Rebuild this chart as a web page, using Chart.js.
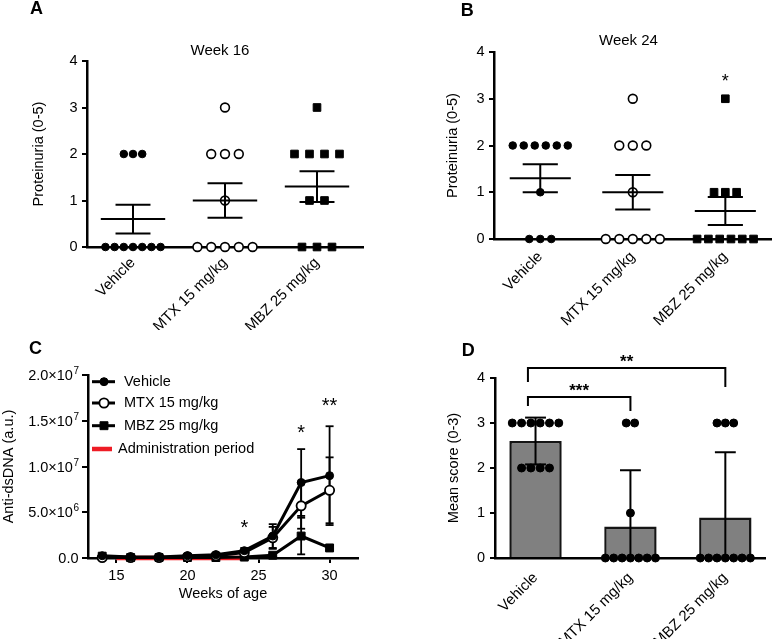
<!DOCTYPE html>
<html>
<head>
<meta charset="utf-8">
<title>Figure</title>
<script src="https://cdn.jsdelivr.net/npm/chart.js@4.4.1/dist/chart.umd.min.js"></script>
<style>
  html, body { margin:0; padding:0; background:#fff; }
  body { position:relative; width:778px; height:639px; overflow:hidden; font-family:"Liberation Sans", Arial, Helvetica, sans-serif; color:#000; }
  canvas { position:absolute; display:block; }
  .tag { position:absolute; font-weight:bold; font-size:18px; line-height:1; }
  .ttl { position:absolute; font-size:15px; line-height:1; white-space:nowrap; transform:translateX(-50%); }
</style>
</head>
<body>
<canvas id="chartA" width="390" height="330" style="left:0;top:0"></canvas>
<canvas id="chartB" width="388" height="330" style="left:390px;top:0"></canvas>
<canvas id="chartC" width="390" height="309" style="left:0;top:330px"></canvas>
<canvas id="chartD" width="388" height="309" style="left:390px;top:330px"></canvas>
<div class="tag" style="left:30px;top:-0.6px">A</div>
<div class="tag" style="left:460.7px;top:0.7px">B</div>
<div class="tag" style="left:29px;top:339.4px">C</div>
<div class="tag" style="left:461.7px;top:340.7px">D</div>
<div class="ttl" style="left:220px;top:41.7px">Week 16</div>
<div class="ttl" style="left:628.5px;top:32.2px">Week 24</div>
<script>
// ---------------- data ----------------
const groups = ['Vehicle', 'MTX 15 mg/kg', 'MBZ 25 mg/kg'];
const groupIndex = [0, 1, 2];

// Panel A: week 16 proteinuria
const wk16Vehicle = [2, 2, 2, 0, 0, 0, 0, 0, 0, 0];
const wk16MTX     = [3, 2, 2, 2, 1, 0, 0, 0, 0, 0];
const wk16MBZ     = [3, 2, 2, 2, 2, 1, 1, 0, 0, 0];
const wk16Mean    = [0.6, 1.0, 1.3];
const wk16SEM     = [0.31, 0.37, 0.33];

// Panel B: week 24 proteinuria
const wk24Vehicle = [2, 2, 2, 2, 2, 2, 1, 0, 0, 0];
const wk24MTX     = [3, 2, 2, 2, 1, 0, 0, 0, 0, 0];
const wk24MBZ     = [3, 1, 1, 1, 0, 0, 0, 0, 0, 0];
const wk24Mean    = [1.3, 1.0, 0.6];
const wk24SEM     = [0.3, 0.37, 0.3];
const wk24Stars   = ['', '', '*'];
const wk24StarY   = [0, 0, 3.47];

const proteinuriaTicks = [0, 1, 2, 3, 4];

// Panel C: anti-dsDNA over time
const weeks = [14, 16, 18, 20, 22, 24, 26, 28, 30];
const dsdnaVehicle   = [0.25e6, 0.1e6, 0.1e6, 0.25e6, 0.35e6, 0.8e6, 2.4e6, 8.25e6, 9.0e6];
const dsdnaVehicleSD = [0.1e6, 0.05e6, 0.05e6, 0.1e6, 0.15e6, 0.3e6, 1.3e6, 3.65e6, 5.4e6];
const dsdnaMTX       = [0.05e6, 0.05e6, 0.05e6, 0.15e6, 0.25e6, 0.6e6, 2.2e6, 5.7e6, 7.4e6];
const dsdnaMTXSD     = [0.03e6, 0.03e6, 0.03e6, 0.05e6, 0.1e6, 0.25e6, 1.2e6, 2.5e6, 3.6e6];
const dsdnaMBZ       = [0.2e6, 0.05e6, 0.05e6, 0.05e6, 0.05e6, 0.1e6, 0.3e6, 2.4e6, 1.1e6];
const dsdnaMBZSD     = [0.05e6, 0.03e6, 0.03e6, 0.03e6, 0.03e6, 0.05e6, 0.15e6, 2.0e6, 0.3e6];
const weekTicks       = [15, 20, 25, 30];
const dsdnaTicks      = [0, 5e6, 1e7, 1.5e7, 2e7];
const dsdnaTickBase   = ['0.0', '5.0×10', '1.0×10', '1.5×10', '2.0×10'];
const dsdnaTickExp    = ['', '6', '7', '7', '7'];
const adminPeriod     = [15, 24];
const adminLabel      = 'Administration period';
const dsdnaStarWeeks  = [24, 28, 30];
const dsdnaStarY      = [3.9e6, 14.3e6, 17.2e6];
const dsdnaStars      = ['*', '*', '**'];

// Panel D: histology mean score
const histVehicle = [3, 3, 3, 3, 3, 3, 2, 2, 2, 2];
const histMTX     = [3, 3, 1, 0, 0, 0, 0, 0, 0, 0];
const histMBZ     = [3, 3, 3, 0, 0, 0, 0, 0, 0, 0];
const histMean    = [2.6, 0.7, 0.9];
const histSD      = [0.52, 1.25, 1.45];
const histCompare      = [[0, 1], [0, 2]];
const histCompareStars = ['***', '**'];
const histCompareY     = [3.58, 4.22];

// ---------------- setup ----------------
const FONT = "'Liberation Sans', Arial, Helvetica, sans-serif";
Chart.defaults.font.family = FONT;
Chart.defaults.font.size = 14;
Chart.defaults.color = '#000';

function swarm(values, gi, step) {
  const counts = {}, seen = {};
  values.forEach(v => counts[v] = (counts[v] || 0) + 1);
  return values.map(v => {
    const k = seen[v] = (seen[v] || 0) + 1;
    return { x: gi + (k - 1 - (counts[v] - 1) / 2) * step, y: v };
  });
}
function seg(ctx, x1, y1, x2, y2) { ctx.beginPath(); ctx.moveTo(x1, y1); ctx.lineTo(x2, y2); ctx.stroke(); }

const meanSemPlugin = {
  id: 'meanSem',
  afterDatasetsDraw(chart, args, o) {
    if (!o.mean) return;
    const ctx = chart.ctx, xs = chart.scales.x, ys = chart.scales.y;
    ctx.save(); ctx.strokeStyle = '#000'; ctx.lineWidth = o.lineWidth;
    o.mean.forEach((m, i) => {
      const lo = m - o.sem[i], hi = m + o.sem[i];
      const px = xs.getPixelForValue(i);
      const ym = ys.getPixelForValue(m);
      seg(ctx, xs.getPixelForValue(i - o.meanHalf), ym, xs.getPixelForValue(i + o.meanHalf), ym);
      seg(ctx, px, ys.getPixelForValue(lo), px, ys.getPixelForValue(hi));
      [lo, hi].forEach(v => seg(ctx, xs.getPixelForValue(i - o.capHalf), ys.getPixelForValue(v), xs.getPixelForValue(i + o.capHalf), ys.getPixelForValue(v)));
    });
    ctx.restore();
  }
};

const starPlugin = {
  id: 'stars',
  afterDraw(chart, args, o) {
    if (!o.items) return;
    const ctx = chart.ctx, xs = chart.scales.x, ys = chart.scales.y;
    ctx.save(); ctx.fillStyle = '#000'; ctx.textAlign = 'center'; ctx.textBaseline = 'alphabetic';
    ctx.font = (o.bold ? 'bold ' : '') + o.size + 'px ' + FONT;
    o.items.forEach(it => {
      if (!it.text) return;
      ctx.fillText(it.text, xs.getPixelForValue(it.x), ys.getPixelForValue(it.y) + 0.58 * o.size);
    });
    ctx.restore();
  }
};

const errorBarPlugin = {
  id: 'errorBars',
  beforeDatasetsDraw(chart, args, o) {
    if (!o.series) return;
    const ctx = chart.ctx, xs = chart.scales.x, ys = chart.scales.y;
    ctx.save(); ctx.strokeStyle = '#000'; ctx.lineWidth = o.lineWidth;
    o.series.forEach(s => {
      s.x.forEach((xv, i) => {
        const m = s.mean[i], e = s.err[i];
        const px = xs.getPixelForValue(xv);
        const yl = ys.getPixelForValue(m - e), yh = ys.getPixelForValue(m + e);
        seg(ctx, px, yl, px, yh);
        seg(ctx, px - o.cap, yl, px + o.cap, yl);
        seg(ctx, px - o.cap, yh, px + o.cap, yh);
      });
    });
    ctx.restore();
  }
};

// y tick labels with real superscript exponents (panel C)
const expTickPlugin = {
  id: 'expTicks',
  afterDraw(chart, args, o) {
    if (!o.base) return;
    const ctx = chart.ctx, ys = chart.scales.y;
    const xr = chart.chartArea.left - o.offset;
    ctx.save(); ctx.fillStyle = '#000'; ctx.textBaseline = 'alphabetic'; ctx.textAlign = 'left';
    o.values.forEach((v, i) => {
      const y = ys.getPixelForValue(v) + o.size * 0.36;
      ctx.font = o.expSize + 'px ' + FONT;
      const we = o.exp[i] ? ctx.measureText(o.exp[i]).width : 0;
      ctx.font = o.size + 'px ' + FONT;
      const wb = ctx.measureText(o.base[i]).width;
      const x0 = xr - we - wb;
      ctx.fillText(o.base[i], x0, y);
      if (o.exp[i]) { ctx.font = o.expSize + 'px ' + FONT; ctx.fillText(o.exp[i], x0 + wb + 0.5, y - o.size * 0.42); }
    });
    ctx.restore();
  }
};

const legendPlugin = {
  id: 'panelLegend',
  afterDraw(chart, args, o) {
    if (!o.rows) return;
    const ctx = chart.ctx, ca = chart.chartArea;
    ctx.save();
    ctx.font = o.size + 'px ' + FONT; ctx.textBaseline = 'middle'; ctx.textAlign = 'left';
    chart.data.datasets.forEach((ds, i) => {
      const y = ca.top + o.rows[i];
      const isLine = ds.pointRadius === 0;
      ctx.strokeStyle = ds.borderColor; ctx.lineWidth = ds.borderWidth;
      seg(ctx, ca.left + o.x0, y, ca.left + (isLine ? o.x1Line : o.x1), y);
      if (!isLine) {
        ctx.fillStyle = ds.pointBackgroundColor; ctx.strokeStyle = ds.pointBorderColor; ctx.lineWidth = ds.pointBorderWidth;
        const cx = ca.left + o.xm, r = ds.pointRadius;
        ctx.beginPath();
        if (ds.pointStyle === 'rect') { const h = r * Math.SQRT1_2; ctx.rect(cx - h, y - h, 2 * h, 2 * h); }
        else ctx.arc(cx, y, r, 0, Math.PI * 2);
        ctx.fill(); ctx.stroke();
      }
      ctx.fillStyle = '#000';
      ctx.fillText(ds.label, ca.left + (isLine ? o.txLine : o.tx), y);
    });
    ctx.restore();
  }
};

const barErrorPlugin = {
  id: 'barErrors',
  afterDatasetDraw(chart, args, o) {
    if (!o.mean || args.meta.type !== 'bar') return;
    const ctx = chart.ctx, xs = chart.scales.x, ys = chart.scales.y;
    ctx.save(); ctx.strokeStyle = '#000'; ctx.lineWidth = o.lineWidth;
    o.mean.forEach((m, i) => {
      const lo = Math.max(m - o.sd[i], 0), hi = m + o.sd[i];
      const px = xs.getPixelForValue(i);
      seg(ctx, px, ys.getPixelForValue(lo), px, ys.getPixelForValue(hi));
      seg(ctx, xs.getPixelForValue(i - o.capHalf), ys.getPixelForValue(hi), xs.getPixelForValue(i + o.capHalf), ys.getPixelForValue(hi));
      if (m - o.sd[i] > 0) seg(ctx, xs.getPixelForValue(i - o.capHalf), ys.getPixelForValue(lo), xs.getPixelForValue(i + o.capHalf), ys.getPixelForValue(lo));
    });
    ctx.restore();
  }
};

const bracketPlugin = {
  id: 'brackets',
  afterDraw(chart, args, o) {
    if (!o.items) return;
    const ctx = chart.ctx, xs = chart.scales.x, ys = chart.scales.y;
    ctx.save(); ctx.strokeStyle = '#000'; ctx.fillStyle = '#000'; ctx.lineWidth = o.lineWidth;
    ctx.font = 'bold ' + o.size + 'px ' + FONT; ctx.textAlign = 'center'; ctx.textBaseline = 'alphabetic';
    o.items.forEach(it => {
      const x1 = xs.getPixelForValue(it.from), x2 = xs.getPixelForValue(it.to), y = ys.getPixelForValue(it.y);
      ctx.beginPath();
      ctx.moveTo(x1, y + it.dropL); ctx.lineTo(x1, y); ctx.lineTo(x2, y); ctx.lineTo(x2, y + it.dropR);
      ctx.stroke();
      ctx.fillText(it.text, (x1 + x2) / 2, y - 1);
    });
    ctx.restore();
  }
};

function xCatAxis(min, max, pad, height) {
  return {
    type: 'linear', min: min, max: max, offset: false,
    afterBuildTicks: s => { s.ticks = groupIndex.map(v => ({ value: v })); },
    ticks: { autoSkip: false, minRotation: 45, maxRotation: 45, padding: pad, font: { size: 15 }, callback: v => groups[v] },
    grid: { display: false, drawTicks: false },
    border: { display: true, color: '#000', width: 2.5 },
    afterFit: s => { s.height = height; }
  };
}
function yAxis(min, max, tickVals, title, width, pad, tickLen, hideLabels) {
  return {
    type: 'linear', min: min, max: max,
    afterBuildTicks: s => { s.ticks = tickVals.map(v => ({ value: v })); },
    ticks: { display: !hideLabels, padding: pad, font: { size: 14.5 } },
    grid: { drawOnChartArea: false, drawTicks: true, tickLength: tickLen, color: '#000', lineWidth: 2 },
    border: { display: true, color: '#000', width: 2.5 },
    title: { display: true, text: title, font: { size: 14.5 }, padding: 0 },
    afterFit: s => { s.width = width; }
  };
}

const markerStyles = [
  { pointStyle: 'circle', pointRadius: 3.8, pointBackgroundColor: '#000', pointBorderColor: '#000', pointBorderWidth: 1 },
  { pointStyle: 'circle', pointRadius: 4.4, pointBackgroundColor: '#fff', pointBorderColor: '#000', pointBorderWidth: 1.6 },
  { pointStyle: 'rect', pointRadius: 5.4, pointBackgroundColor: '#000', pointBorderColor: '#000', pointBorderWidth: 1 }
];

function proteinuriaChart(id, series, mean, sem, steps, layout, stars, starY) {
  return new Chart(document.getElementById(id), {
    type: 'scatter',
    data: {
      datasets: series.map((vals, i) => Object.assign({
        label: groups[i], data: swarm(vals, i, steps[i]), clip: false
      }, markerStyles[i], { pointHoverRadius: markerStyles[i].pointRadius }))
    },
    options: {
      responsive: false, animation: false, events: [],
      layout: { padding: layout.padding },
      scales: {
        x: xCatAxis(-0.5, 2.5, layout.xPad, layout.xHeight),
        y: yAxis(0, 4, proteinuriaTicks, 'Proteinuria (0-5)', layout.yWidth, 4.5, 5)
      },
      plugins: {
        legend: { display: false }, tooltip: { enabled: false },
        meanSem: { mean: mean, sem: sem, meanHalf: layout.meanHalf, capHalf: layout.capHalf, lineWidth: 2 },
        stars: stars ? { items: groupIndex.map(i => ({ x: i, y: starY[i], text: stars[i] })), size: 18, bold: false } : {}
      }
    },
    plugins: [meanSemPlugin, starPlugin]
  });
}

// Panel A
proteinuriaChart('chartA', [wk16Vehicle, wk16MTX, wk16MBZ], wk16Mean, wk16SEM, [0.1, 0.15, 0.163],
  { padding: { left: 29.8, top: 61, right: 27, bottom: 0 }, yWidth: 57.2, xHeight: 83, xPad: 7, meanHalf: 0.35, capHalf: 0.19 });

// Panel B
proteinuriaChart('chartB', [wk24Vehicle, wk24MTX, wk24MBZ], wk24Mean, wk24SEM, [0.119, 0.146, 0.122],
  { padding: { left: 54.3, top: 52, right: 1, bottom: 0 }, yWidth: 49.7, xHeight: 91, xPad: 9, meanHalf: 0.33, capHalf: 0.19 },
  wk24Stars, wk24StarY);

// Panel C
const cSeries = [
  { label: groups[0], y: dsdnaVehicle, err: dsdnaVehicleSD, style: { pointStyle: 'circle', pointRadius: 4, pointBackgroundColor: '#000', pointBorderWidth: 1 } },
  { label: groups[1], y: dsdnaMTX, err: dsdnaMTXSD, style: { pointStyle: 'circle', pointRadius: 4.6, pointBackgroundColor: '#fff', pointBorderWidth: 1.8 } },
  { label: groups[2], y: dsdnaMBZ, err: dsdnaMBZSD, style: { pointStyle: 'rect', pointRadius: 5.6, pointBackgroundColor: '#000', pointBorderWidth: 1 } }
];
new Chart(document.getElementById('chartC'), {
  type: 'line',
  data: {
    datasets: cSeries.map((s, i) => Object.assign({
      label: s.label, data: weeks.map((w, j) => ({ x: w, y: s.y[j] })),
      borderColor: '#000', borderWidth: 3, pointBorderColor: '#000', tension: 0, fill: false, clip: false, order: i + 1
    }, s.style, { pointHoverRadius: s.style.pointRadius })).concat([{
      label: adminLabel, data: adminPeriod.map(w => ({ x: w, y: 0 })),
      borderColor: '#ee1c25', borderWidth: 4.5, pointRadius: 0, pointHoverRadius: 0, clip: false, order: 10
    }])
  },
  options: {
    responsive: false, animation: false, events: [],
    layout: { padding: { left: 0, top: 45, right: 32, bottom: 36.3 } },
    scales: {
      x: {
        type: 'linear', min: 13, max: 32,
        afterBuildTicks: s => { s.ticks = weekTicks.map(v => ({ value: v })); },
        ticks: { padding: 4, font: { size: 14.5 } },
        grid: { drawOnChartArea: false, drawTicks: true, tickLength: 5, color: '#000', lineWidth: 2 },
        border: { display: true, color: '#000', width: 2.5 },
        title: { display: true, text: 'Weeks of age', font: { size: 14.5 }, padding: 0 },
        afterFit: s => { s.height = 44.7; }
      },
      y: yAxis(0, 2e7, dsdnaTicks, 'Anti-dsDNA (a.u.)', 88, 4, 6, true)
    },
    plugins: {
      legend: { display: false }, tooltip: { enabled: false },
      errorBars: { series: cSeries.map(s => ({ x: weeks, mean: s.y, err: s.err })), cap: 4, lineWidth: 1.8 },
      expTicks: { values: dsdnaTicks, base: dsdnaTickBase, exp: dsdnaTickExp, offset: 9.5, size: 14.5, expSize: 10 },
      panelLegend: { rows: [6.7, 28, 50.7, 74], x0: 4, x1: 27, x1Line: 24, xm: 16, tx: 36, txLine: 30, size: 14.5 },
      stars: { items: dsdnaStarWeeks.map((w, i) => ({ x: w, y: dsdnaStarY[i], text: dsdnaStars[i] })), size: 20, bold: false }
    }
  },
  plugins: [errorBarPlugin, expTickPlugin, legendPlugin, starPlugin]
});

// Panel D
new Chart(document.getElementById('chartD'), {
  type: 'bar',
  data: {
    datasets: [
      {
        type: 'bar', label: 'Mean score', data: groupIndex.map(i => ({ x: i, y: histMean[i] })),
        backgroundColor: '#808080', borderColor: '#151515', borderWidth: 2.5,
        barPercentage: 0.552, categoryPercentage: 1, order: 2
      },
      {
        type: 'scatter', label: 'Individual',
        data: [].concat(swarm(histVehicle, 0, 0.098), swarm(histMTX, 1, 0.088), swarm(histMBZ, 2, 0.088)),
        pointStyle: 'circle', pointRadius: 4, pointHoverRadius: 4, pointBackgroundColor: '#000', pointBorderColor: '#000',
        pointBorderWidth: 1, clip: false, order: 1
      }
    ]
  },
  options: {
    responsive: false, animation: false, events: [],
    layout: { padding: { left: 54.8, top: 48, right: 13, bottom: 0 } },
    scales: {
      x: xCatAxis(-0.427, 2.418, 11, 81),
      y: yAxis(0, 4, proteinuriaTicks, 'Mean score (0-3)', 50.2, 5, 5)
    },
    plugins: {
      legend: { display: false }, tooltip: { enabled: false },
      barErrors: { mean: histMean, sd: histSD, capHalf: 0.11, lineWidth: 2 },
      brackets: {
        items: histCompare.map((c, k) => ({ from: c[0] - 0.08, to: c[1], y: histCompareY[k], text: histCompareStars[k], dropL: k === 0 ? 9 : 14, dropR: k === 0 ? 14 : 19 })),
        lineWidth: 2, size: 17
      }
    }
  },
  plugins: [barErrorPlugin, bracketPlugin]
});
</script>
</body>
</html>
